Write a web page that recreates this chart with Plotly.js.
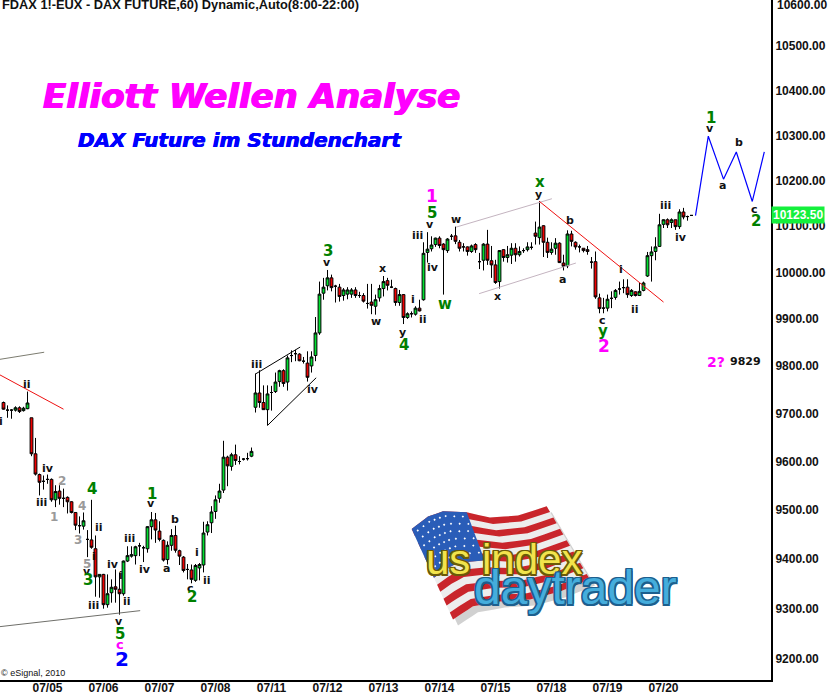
<!DOCTYPE html>
<html><head><meta charset="utf-8">
<script src="https://cdn.plot.ly/plotly-3.0.1.min.js"></script>
<style>html,body{margin:0;padding:0;background:#fff;overflow:hidden}#c{width:828px;height:697px}</style>
</head><body><div id="c"></div>
<script>
const chartHeader = "FDAX 1!-EUX - DAX FUTURE,60) Dynamic,Auto(8:00-22:00)";
const chartTitle = "Elliott Wellen Analyse";
const chartSubtitle = "DAX Future im Stundenchart";
const copyrightText = "© eSignal, 2010";

const candleOpen = [9723,9707,9707,9707,9712,9706,9710,9691,9616,9573,
9559,9563,9563,9521,9539,9524,9526,9517,9495,9468,
9467,9440,9439,9421,9364,9369,9308,9332,9344,9339,
9330,9396,9406,9407,9427,9423,9421,9466,9480,9457,
9438,9399,9428,9448,9417,9404,9379,9378,9357,9382,
9388,9455,9474,9497,9524,9541,9609,9590,9614,9600,
9605,9606,9611,9713,9743,9723,9708,9744,9746,9767,
9790,9766,9822,9826,9825,9810,9806,9800,9822,9870,
9955,9971,9988,9970,9968,9950,9953,9953,9962,9950,
9950,9933,9936,9927,9945,9965,9982,9968,9965,9935,
9952,9903,9911,9910,9923,9941,10043,10051,10060,10074,
10061,10047,10078,10079,10065,10055,10055,10045,10060,10023,
10026,10061,10025,10016,9980,10049,10032,10037,10052,10038,
10047,10049,10054,10085,10075,10101,10065,10043,10052,10063,
10020,10014,10083,10065,10055,10052,10049,10022,10023,9945,
9923,9923,9944,9946,9964,9967,9968,9950,9958,9950,
9961,9992,10036,10045,10056,10104,10114,10108,10114,10099,10131,10121,10123.5];
const candleHigh = [9725,9717,9709,9715,9715,9714,9746,9691,9649,9575,
9571,9573,9565,9551,9551,9544,9528,9518,9495,9487,
9495,9459,9521,9448,9369,9370,9369,9359,9379,9373,
9397,9426,9426,9427,9433,9427,9467,9496,9494,9477,
9440,9436,9461,9468,9419,9406,9390,9389,9390,9392,
9476,9477,9508,9530,9554,9643,9612,9618,9635,9611,
9607,9618,9629,9784,9791,9759,9759,9758,9786,9792,
9793,9822,9833,9834,9827,9819,9831,9831,9904,9980,
9988,10005,9995,9973,9975,9966,9968,9966,9968,9958,
9955,9975,9975,9952,9973,9992,9988,9984,9967,9962,
9953,9914,9916,9927,9941,10065,10087,10078,10075,10078,
10063,10074,10083,10099,10070,10063,10056,10060,10063,10042,
10063,10092,10057,10027,10047,10050,10057,10063,10063,10056,
10052,10065,10065,10110,10155,10102,10075,10065,10074,10065,
10038,10091,10090,10067,10060,10052,10057,10033,10045,9954,
9945,9952,9959,9964,9980,9985,9985,9964,9959,9977,
9980,10044,10056,10076,10127,10115,10117,10117,10114,10137,10140,10123,10124];
const candleLow = [9708,9691,9689,9704,9701,9704,9709,9611,9571,9530,
9542,9554,9517,9506,9511,9506,9493,9493,9459,9452,
9460,9404,9421,9324,9322,9300,9302,9312,9312,9288,
9326,9394,9403,9389,9406,9394,9413,9440,9433,9436,
9395,9389,9417,9413,9388,9373,9359,9351,9354,9357,
9373,9448,9453,9482,9515,9535,9549,9581,9593,9594,
9602,9602,9609,9702,9712,9708,9675,9706,9743,9756,
9756,9748,9808,9810,9810,9805,9767,9786,9810,9866,
9941,9961,9959,9935,9937,9939,9942,9945,9945,9945,
9935,9922,9910,9909,9937,9948,9961,9966,9928,9928,
9889,9900,9903,9907,9916,9939,10021,10045,10055,10052,
9952,10042,10070,10061,10045,10045,10036,10042,10042,10007,
10004,10016,9988,9975,9965,10023,10021,10018,10023,10034,
10042,10045,10049,10060,10060,10033,10031,10038,10038,10020,
10004,10009,10056,10049,10043,10043,10038,10008,9943,9912,
9912,9916,9923,9941,9952,9955,9945,9947,9948,9950,
9959,9990,9980,10026,10055,10096,10096,10096,10092,10094,10115,10112,10123];
const candleClose = [9709,9707,9707,9712,9704,9711,9722,9616,9574,9557,
9559,9563,9521,9538,9524,9524,9517,9495,9469,9468,
9478,9440,9424,9364,9369,9308,9330,9343,9339,9330,
9396,9407,9409,9425,9427,9423,9466,9480,9459,9440,
9398,9428,9448,9418,9406,9377,9379,9359,9387,9389,
9453,9470,9496,9521,9539,9609,9591,9614,9602,9600,
9605,9606,9621,9743,9723,9708,9741,9744,9766,9790,
9763,9817,9822,9826,9811,9810,9776,9819,9870,9953,
9968,9988,9967,9970,9948,9962,9962,9962,9950,9950,
9938,9933,9929,9941,9965,9980,9972,9968,9935,9952,
9903,9911,9911,9923,9917,10041,10050,10059,10074,10058,
10049,10072,10078,10067,10052,10055,10045,10057,10049,10023,
10061,10026,10016,9978,10047,10032,10038,10052,10038,10045,
10047,10055,10054,10078,10098,10065,10043,10050,10063,10021,
10013,10083,10067,10055,10055,10047,10045,10022,9947,9922,
9923,9942,9944,9961,9964,9967,9952,9961,9950,9959,
9977,10036,10044,10055,10103,10114,10103,10114,10099,10131,10120,10121,10123.5];
const candleIndex = candleOpen.map((_, i) => i);

const dayTickIndex = [11,25,39,53,67,81,95,109,123,137,151,165];
const dayTickLabel = ["07/05","07/06","07/07","07/08","07/11","07/12","07/13","07/14","07/15","07/18","07/19","07/20"];
const priceTicks = [10500,10400,10300,10200,10100,10000,9900,9800,9700,9600,9500,9400,9300,9200];
const topPriceTick = 10600;
const lastPrice = 10123.5;

const forecastX = [173,176.2,180,183.2,187.2,190.2];
const forecastY = [10123,10298,10203,10263,10154,10263];

const redLineAX = [-0.88,15];        const redLineAY = [9781,9709];
const redLineBX = [134,165];         const redLineBY = [10154,9936];
const darkLineAX = [-0.88,10.17];    const darkLineAY = [9814,9829];
const darkLineBX = [-0.88,34.17];    const darkLineBY = [9264,9296];
const blackLineAX = [63,74.17];      const blackLineAY = [9783,9840];
const blackLineBX = [66,78.17];      const blackLineBY = [9675,9775];
const paleLineAX = [113.17,137.1];   const paleLineAY = [10098,10160];
const paleLineBX = [118.9,143.1];    const paleLineBY = [9954,10020];

const waveText = ["ii","i","iv","iii","2","1","4","3","5","v","3","4","ii","i","iii","iv","i","ii","iii","iv","1","v","a","b","i","ii","c","2","v","5","c","2",
"iii","iv","3","v","x","w","y","4","i","ii","iii","v","5","1","iv","w","w","x","x","y","b","a","i","ii","c","y","2","iii","iv","1","v","a","b","c","2","2?","9829"];
const waveX = [5.84,-0.7,11.2,9.5,14.7,12.7,19.7,18.7,20.8,20.8,21,22,23.9,22.5,22.5,27.3,29.4,30.9,31.4,35.3,37,36.8,40.7,42.8,48.4,50.9,46.7,47,28.8,29,29,29.6,
63.3,77.3,81,80.8,94.8,93.2,99.7,100,102.4,104.9,103.5,106.7,107,107,107.3,110.4,113.2,123.5,134,133.7,141.7,139.7,154.4,157.9,149.7,149.8,150.2,165.4,169.3,176.9,176.7,179.8,183.8,187.7,188,178.2,185.4];
const wavePrice = [9761,9684,9585,9515,9560,9485,9509,9438,9390,9375,9357,9544,9464,9406,9306,9390,9367,9315,9441,9379,9533,9514,9381,9480,9413,9357,9340,9323,9275,9250,9228,9200,
9803,9751,10047,10021,10008,9895,9870,9845,9941,9898,10079,10104,10129,10165,10011,9932,10115,9948,10197,10169,10112,9985,10005,9920,9897,9875,9843,10145,10076,10339,10316,10189,10283,10136,10112,9809,9809];
const waveGroup = ["k","k","k","k","g","g","g","g","g","k","G","G","k","k","k","k","k","k","k","k","G","k","k","k","k","k","k","G","k","G","m","B",
"k","k","G","k","k","k","k","G","k","k","k","k","G","M","k","G","k","k","G","k","k","k","k","k","k","G","M","k","k","G","k","k","k","k","G","Q","k"];

const groupStyle = {
  k:{color:"#111111",size:11}, g:{color:"#9a9a9a",size:12}, G:{color:"#008000",size:15},
  m:{color:"#FF00FF",size:13}, M:{color:"#FF00FF",size:17}, B:{color:"#0000FF",size:20}, Q:{color:"#FF00FF",size:14}
};

/* logo helpers: page pixels to paper fractions of the plot area */
const PW = 771, PH = 680.5;
const pt = (x, y) => (x / PW).toFixed(5) + "," + (1 - y / PH).toFixed(5);
const flagTop = [[411.7,529.3],[428,517],[443,511.7],[466.7,512.7],[490,518],[518,516],[546.7,506.7]];
const flagBot = [[453,620],[462,614],[473,606.7],[500,602],[530,600],[560,592],[590,580]];
const flagAt = (j, t) => {
  const a = Math.min(Math.floor(j), 5), f = j - a;
  const tx = flagTop[a][0] + (flagTop[a+1][0]-flagTop[a][0])*f, ty = flagTop[a][1] + (flagTop[a+1][1]-flagTop[a][1])*f;
  const bx = flagBot[a][0] + (flagBot[a+1][0]-flagBot[a][0])*f, by = flagBot[a][1] + (flagBot[a+1][1]-flagBot[a][1])*f;
  return [tx + (bx-tx)*t, ty + (by-ty)*t];
};
const region = (j0, j1, t0, t1, dx=0, dy=0) => {
  const pts = [];
  for (let s = 0; s <= 12; s++) { const p = flagAt(j0+(j1-j0)*s/12, t0); pts.push(pt(p[0]+dx,p[1]+dy)); }
  for (let s = 12; s >= 0; s--) { const p = flagAt(j0+(j1-j0)*s/12, t1); pts.push(pt(p[0]+dx,p[1]+dy)); }
  return "M" + pts.join("L") + "Z";
};
const logoShapes = [];
const addLogo = (path, color) => logoShapes.push({type:"path", xref:"paper", yref:"paper", path, fillcolor:color, line:{width:0}, layer:"above"});
addLogo(region(0,6,0,1,5,6), "rgba(0,0,0,0.18)");
addLogo(region(0,6,0,1), "#EDEDED");
for (let k = 0; k < 13; k += 2) addLogo(region(0,6,k/13,(k+1)/13), "#C9252B");
addLogo(region(0,3,0,7/13), "#2A5DB8");
let dots = "";
for (let r = 0; r < 6; r++) for (let c = 0; c < 8; c++) {
  const p = flagAt(0.25 + c*0.36 + (r%2)*0.12, 0.05 + r*0.08);
  dots += "M"+pt(p[0]-1.2,p[1])+"L"+pt(p[0],p[1]-1.2)+"L"+pt(p[0]+1.2,p[1])+"L"+pt(p[0],p[1]+1.2)+"Z";
}
addLogo(dots, "#FFFFFF");

const outline = (c, w) => [w+"px 0 0 "+c, "-"+w+"px 0 0 "+c, "0 "+w+"px 0 "+c, "0 -"+w+"px 0 "+c, w+"px "+w+"px 0 "+c, "-"+w+"px -"+w+"px 0 "+c, w+"px -"+w+"px 0 "+c, "-"+w+"px "+w+"px 0 "+c].join(",");

const annotations = waveText.map((t, i) => {
  const st = groupStyle[waveGroup[i]];
  return {x:waveX[i], y:Math.log10(wavePrice[i]), xref:"x", yref:"y", text:t, showarrow:false,
    font:{family:"DejaVu Sans", size:st.size, color:st.color, weight:700}};
});
const paperText = (text, px, py, font, extra={}) => ({x:px/PW, y:1-py/PH, xref:"paper", yref:"paper", text, showarrow:false, xanchor:"center", yanchor:"middle", font, ...extra});
annotations.push(
  paperText(chartHeader, 0, 5, {family:"Liberation Sans", size:12.8, color:"#111", weight:700}, {xanchor:"left"}),
  paperText(chartTitle, 251, 96, {family:"DejaVu Sans", size:34, color:"#FF00FF", weight:700, style:"italic", shadow:"0.7px 0 0 #FF00FF,-0.7px 0 0 #FF00FF"}),
  paperText(chartSubtitle, 240, 140, {family:"DejaVu Sans", size:20, color:"#0000FF", weight:700, style:"italic", shadow:"0.4px 0 0 #0000FF,-0.4px 0 0 #0000FF"}),
  paperText(copyrightText, -1, 673, {family:"Liberation Sans", size:9, color:"#111"}, {xanchor:"left"}),
  paperText("us index", 504, 560, {family:"Liberation Sans", size:42, color:"#F2E34C", shadow:outline("#6B5A08",1.5)}),
  paperText("daytrader", 575, 588, {family:"Liberation Sans", size:48, color:"#45ADDC", shadow:outline("#1D5F8E",1.5)}),
  paperText(topPriceTick.toFixed(2), 775, 5, {family:"Liberation Sans", size:12, color:"#111", weight:700}, {xanchor:"left"}),
  {x:1, xref:"paper", xanchor:"left", yanchor:"middle", y:Math.log10(lastPrice), yref:"y", text:lastPrice.toFixed(2), showarrow:false,
   bgcolor:"#14F03C", borderpad:1, font:{family:"Liberation Sans", size:12, color:"#FFFFFF", weight:700}}
);

const lineTrace = (x, y, color, width) => ({type:"scatter", mode:"lines", x, y, line:{color, width}, hoverinfo:"skip", showlegend:false});
const traces = [
  lineTrace(darkLineAX, darkLineAY, "#7c7c70", 1),
  lineTrace(darkLineBX, darkLineBY, "#6f6f6a", 1),
  lineTrace(paleLineAX, paleLineAY, "#c4b4c0", 1),
  lineTrace(paleLineBX, paleLineBY, "#c4b4c0", 1),
  lineTrace(blackLineAX, blackLineAY, "#000000", 1),
  lineTrace(blackLineBX, blackLineBY, "#000000", 1),
  {type:"candlestick", x:candleIndex, open:candleOpen, high:candleHigh, low:candleLow, close:candleClose,
   whiskerwidth:0, showlegend:false, hoverinfo:"skip",
   increasing:{line:{color:"#000000",width:1}, fillcolor:"#00E030"},
   decreasing:{line:{color:"#000000",width:1}, fillcolor:"#F00000"}},
  lineTrace(redLineAX, redLineAY, "#EE1111", 1),
  lineTrace(redLineBX, redLineBY, "#EE1111", 1),
  lineTrace(forecastX, forecastY, "#0000FF", 1.2)
];

const layout = {
  width:828, height:697, paper_bgcolor:"#fff", plot_bgcolor:"#fff",
  margin:{l:0, r:57, t:0, b:16.5, pad:0}, showlegend:false, dragmode:false, boxgap:0.3, boxgroupgap:0,
  xaxis:{type:"linear", range:[-0.875,191.875], tickmode:"array", tickvals:dayTickIndex, ticktext:dayTickLabel,
    showgrid:false, zeroline:false, showline:true, linecolor:"#000", linewidth:2, ticks:"", ticklen:0,
    rangeslider:{visible:false}, tickangle:0, ticklabelstandoff:-4,
    tickfont:{family:"Liberation Sans", size:12, color:"#111", weight:700}},
  yaxis:{type:"log", side:"right", range:[3.961798,4.025515], tickmode:"array", tickvals:priceTicks,
    ticktext:priceTicks.map(v => v.toFixed(2)), showgrid:false, zeroline:false, showline:true, linecolor:"#000", linewidth:2,
    ticks:"", ticklen:0, tickfont:{family:"Liberation Sans", size:12, color:"#111", weight:700}},
  shapes:logoShapes, annotations
};
Plotly.newPlot("c", traces, layout, {staticPlot:true, displayModeBar:false});
</script></body></html>
